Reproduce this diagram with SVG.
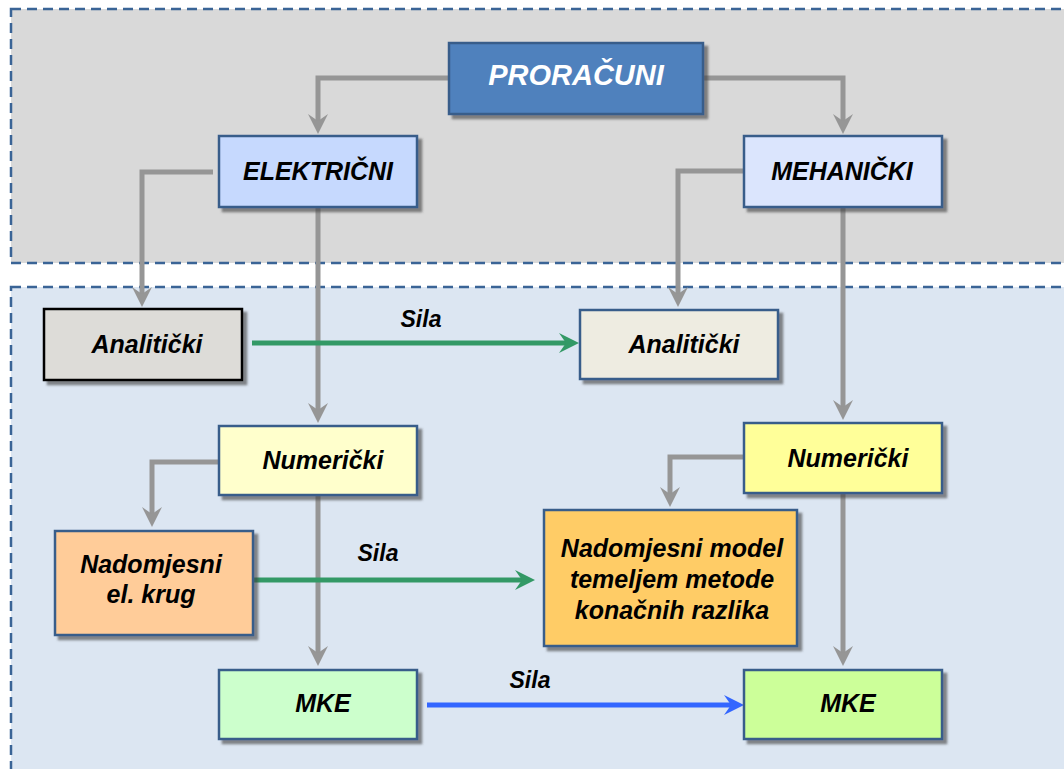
<svg xmlns="http://www.w3.org/2000/svg" width="1064" height="769" viewBox="0 0 1064 769">
<style>
.panel{stroke:#3a6496;stroke-width:2.5;stroke-dasharray:10,6}
.box{stroke:#385d8a;stroke-width:2.5;filter:url(#sh)}
.t{font-family:"Liberation Sans",Arial,sans-serif;font-weight:bold;font-style:italic;font-size:25px;fill:#000;text-anchor:middle}
.g{fill:none;stroke:#969696;stroke-width:5;marker-end:url(#ag)}
.gr{fill:none;stroke:#339966;stroke-width:5;marker-end:url(#agr)}
.bl{fill:none;stroke:#3366ff;stroke-width:5;marker-end:url(#abl)}
</style>
<defs>
<filter id="sh" x="-10%" y="-10%" width="130%" height="140%">
<feDropShadow dx="4" dy="4" stdDeviation="1" flood-color="#404040" flood-opacity="0.6"/>
</filter>
<marker id="ag" viewBox="0 0 20 20" markerUnits="userSpaceOnUse" markerWidth="20" markerHeight="20" refX="7" refY="10" orient="auto"><path d="M0,0 L20,10 L0,20 L7,10 z" fill="#969696"/></marker>
<marker id="agr" viewBox="0 0 20 20" markerUnits="userSpaceOnUse" markerWidth="20" markerHeight="20" refX="7" refY="10" orient="auto"><path d="M0,0 L20,10 L0,20 L7,10 z" fill="#339966"/></marker>
<marker id="abl" viewBox="0 0 20 20" markerUnits="userSpaceOnUse" markerWidth="20" markerHeight="20" refX="7" refY="10" orient="auto"><path d="M0,0 L20,10 L0,20 L7,10 z" fill="#3366ff"/></marker>
</defs>
<rect width="1064" height="769" fill="#ffffff"/>
<g id="panels">
<rect class="panel" x="11" y="9" width="1070" height="254" fill="#d9d9d9"/>
<rect class="panel" x="11" y="287" width="1070" height="500" fill="#dce6f2"/>
</g>
<g id="connectors">
<path class="g" d="M449,78 H318 V121"/>
<path class="g" d="M703,78 H843 V121"/>
<path class="g" d="M213,172 H142 V294"/>
<path class="g" d="M318,207 V410"/>
<path class="g" d="M744,171 H678 V294"/>
<path class="g" d="M843,207 V407"/>
<path class="g" d="M219,462 H152 V514"/>
<path class="g" d="M744,457 H670 V494"/>
<path class="g" d="M318,495 V653"/>
<path class="g" d="M843,493 V653"/>
<path class="gr" d="M252,343 H566"/>
<path class="gr" d="M253,580 H522"/>
<path class="bl" d="M427,705 H731"/>
<text class="t" x="421" y="327" style="font-size:23px">Sila</text>
<text class="t" x="378" y="561" style="font-size:23px">Sila</text>
<text class="t" x="530" y="688" style="font-size:23px">Sila</text>
</g>
<g id="proracuni">
<rect class="box" x="449" y="43" width="254" height="71" fill="#4f81bd"/>
<text class="t" x="576" y="85" style="font-size:29px;fill:#ffffff">PRORAČUNI</text>
</g>
<g id="elektricni">
<rect class="box" x="219" y="136" width="198" height="71" fill="#c6d9fe"/>
<text class="t" x="318" y="180">ELEKTRIČNI</text>
</g>
<g id="mehanicki">
<rect class="box" x="744" y="136" width="198" height="71" fill="#dbe5fd"/>
<text class="t" x="842" y="180">MEHANIČKI</text>
</g>
<g id="analiticki-e">
<rect class="box" x="44" y="309" width="198" height="71" fill="#dddcd8" style="stroke:#000000"/>
<text class="t" x="147" y="353">Analitički</text>
</g>
<g id="analiticki-m">
<rect class="box" x="580" y="310" width="198" height="69" fill="#eeece1"/>
<text class="t" x="684" y="353">Analitički</text>
</g>
<g id="numericki-e">
<rect class="box" x="219" y="426" width="198" height="69" fill="#ffffcc"/>
<text class="t" x="323" y="469">Numerički</text>
</g>
<g id="numericki-m">
<rect class="box" x="744" y="423" width="198" height="70" fill="#ffff99"/>
<text class="t" x="848" y="467">Numerički</text>
</g>
<g id="nadomjesni-krug">
<rect class="box" x="55" y="531" width="198" height="104" fill="#ffcc99"/>
<text class="t" x="151" y="573">Nadomjesni</text>
<text class="t" x="151" y="603">el. krug</text>
</g>
<g id="nadomjesni-model">
<rect class="box" x="544" y="510" width="253" height="136" fill="#ffcc66"/>
<text class="t" x="672" y="557">Nadomjesni model</text>
<text class="t" x="672" y="588">temeljem metode</text>
<text class="t" x="672" y="619">konačnih razlika</text>
</g>
<g id="mke-e">
<rect class="box" x="219" y="670" width="198" height="69" fill="#ccffcc"/>
<text class="t" x="323" y="712">MKE</text>
</g>
<g id="mke-m">
<rect class="box" x="744" y="670" width="198" height="69" fill="#ccff99"/>
<text class="t" x="848" y="712">MKE</text>
</g>
</svg>
